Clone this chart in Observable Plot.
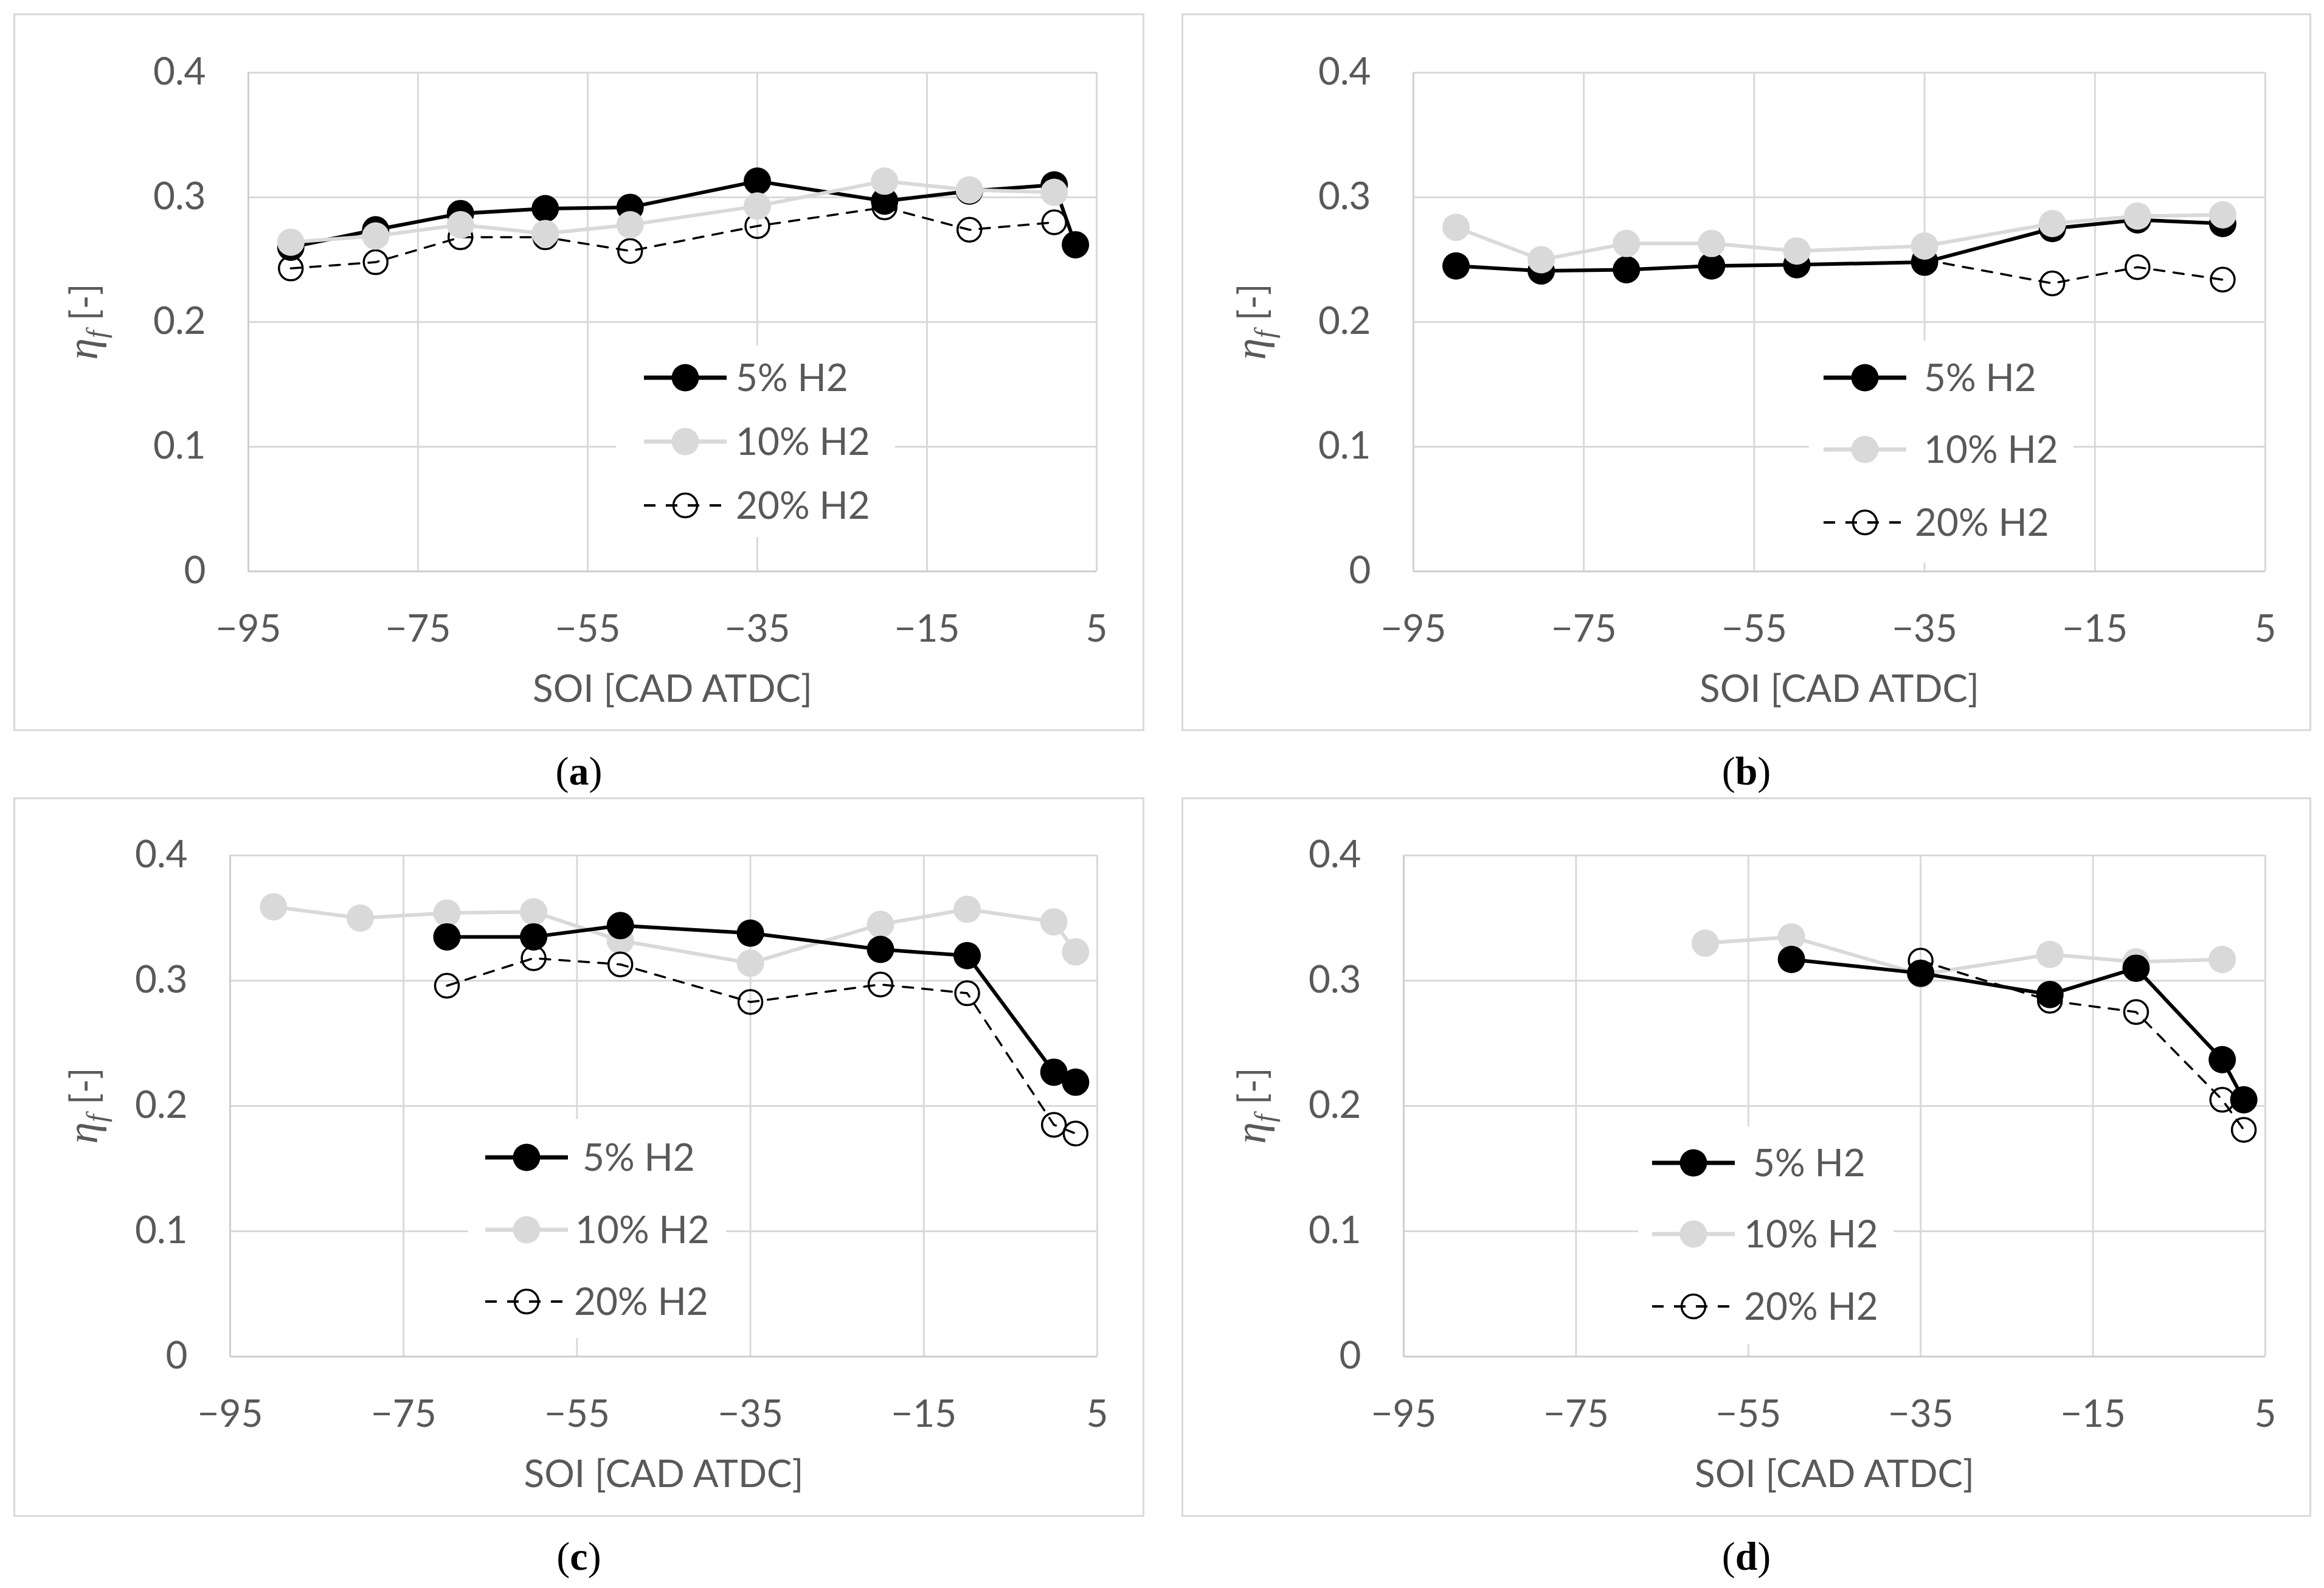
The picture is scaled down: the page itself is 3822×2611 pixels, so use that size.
<!DOCTYPE html>
<html>
<head>
<meta charset="utf-8">
<script src="https://cdn.jsdelivr.net/npm/d3@7"></script>
<script src="https://cdn.jsdelivr.net/npm/@observablehq/plot@0.6"></script>
<style>
  html, body { margin: 0; padding: 0; background: #fff; }
  #page { position: relative; width: 3822px; height: 2611px; background: #fff; overflow: hidden; }
  .panel-svg { position: absolute; }
  .panel-border { position: absolute; box-sizing: border-box; border: 3px solid #d9d9d9; pointer-events: none; }
  .legend { position: absolute; }
  .sublabel { position: absolute; width: 400px; text-align: center; font-family: "Liberation Serif", "DejaVu Serif", serif; font-size: 66px; line-height: 80px; color: #000; }
  .sublabel b { font-weight: bold; }
</style>
</head>
<body>
<div id="page"></div>
<script>
// ---------------- data ----------------
const xTicks = [-95, -75, -55, -35, -15, 5];
const yTicks = [0, 0.1, 0.2, 0.3, 0.4];
const seriesNames = ["5% H2", "10% H2", "20% H2"];
const panelLabels = ["a", "b", "c", "d"];

// (a)
const soiA5  = [-90, -80, -70, -60, -50, -35, -20, -10, 0, 2.5];
const etaA5  = [0.260, 0.274, 0.287, 0.291, 0.292, 0.313, 0.297, 0.305, 0.310, 0.262];
const soiA10 = [-90, -80, -70, -60, -50, -35, -20, -10, 0];
const etaA10 = [0.264, 0.269, 0.278, 0.271, 0.278, 0.293, 0.313, 0.306, 0.304];
const soiA20 = [-90, -80, -70, -60, -50, -35, -20, -10, 0];
const etaA20 = [0.243, 0.248, 0.268, 0.268, 0.257, 0.277, 0.292, 0.274, 0.280];

// (b)
const soiB5  = [-90, -80, -70, -60, -50, -35, -20, -10, 0];
const etaB5  = [0.245, 0.241, 0.242, 0.245, 0.246, 0.248, 0.275, 0.282, 0.279];
const soiB10 = [-90, -80, -70, -60, -50, -35, -20, -10, 0];
const etaB10 = [0.276, 0.250, 0.263, 0.263, 0.257, 0.261, 0.279, 0.285, 0.286];
const soiB20 = [-35, -20, -10, 0];
const etaB20 = [0.250, 0.231, 0.244, 0.234];

// (c)
const soiC5  = [-70, -60, -50, -35, -20, -10, 0, 2.5];
const etaC5  = [0.335, 0.335, 0.344, 0.338, 0.325, 0.320, 0.227, 0.219];
const soiC10 = [-90, -80, -70, -60, -50, -35, -20, -10, 0, 2.5];
const etaC10 = [0.359, 0.350, 0.354, 0.355, 0.332, 0.314, 0.345, 0.357, 0.347, 0.323];
const soiC20 = [-70, -60, -50, -35, -20, -10, 0, 2.5];
const etaC20 = [0.296, 0.318, 0.313, 0.283, 0.297, 0.290, 0.185, 0.178];

// (d)
const soiD5  = [-50, -35, -20, -10, 0, 2.5];
const etaD5  = [0.317, 0.306, 0.289, 0.310, 0.237, 0.205];
const soiD10 = [-60, -50, -35, -20, -10, 0];
const etaD10 = [0.330, 0.335, 0.305, 0.321, 0.315, 0.317];
const soiD20 = [-35, -20, -10, 0, 2.5];
const etaD20 = [0.316, 0.284, 0.275, 0.205, 0.181];

// ---------------- styles ----------------
const TEXT = "#595959";
const GRID = "#d9d9d9";
const FONT = "Lato, 'Open Sans', sans-serif";
const FS = 62;
const styles = {
  "5% H2":  {line: {stroke: "#000", strokeWidth: 6}, dot: {r: 22.5, fill: "#000", stroke: "none"}},
  "10% H2": {line: {stroke: "#d9d9d9", strokeWidth: 6}, dot: {r: 22.5, fill: "#d9d9d9", stroke: "none"}},
  "20% H2": {line: {stroke: "#000", strokeWidth: 3.5, strokeDasharray: "17,15"}, dot: {r: 19.5, fill: "none", stroke: "#000", strokeWidth: 3.5}}
};

const rows = (soi, eta) => soi.map((s, i) => ({soi: s, eta: eta[i]}));

const panels = [
  {label: "a", box: {x: 22, y: 22, w: 1860, h: 1180}, m: [97, 79, 263, 386],
   series: {"5% H2": rows(soiA5, etaA5), "10% H2": rows(soiA10, etaA10), "20% H2": rows(soiA20, etaA20)},
   order: ["20% H2", "5% H2", "10% H2"],
   legend: {x: 1013, y: 568, w: 459, h: 315, sx: 1059, rows: [621, 726, 831], tx: [1210, 1210, 1210]},
   sub: {cx: 952, cy: 1268}},
  {label: "b", box: {x: 1943, y: 22, w: 1858, h: 1180}, m: [97, 76, 263, 381],
   series: {"5% H2": rows(soiB5, etaB5), "10% H2": rows(soiB10, etaB10), "20% H2": rows(soiB20, etaB20)},
   order: ["20% H2", "5% H2", "10% H2"],
   legend: {x: 2975, y: 560, w: 435, h: 365, sx: 2999, rows: [621, 739, 859], tx: [3164, 3164, 3149]},
   sub: {cx: 2872, cy: 1268}},
  {label: "c", box: {x: 22, y: 1311, w: 1860, h: 1183}, m: [95, 78, 264, 356],
   series: {"5% H2": rows(soiC5, etaC5), "10% H2": rows(soiC10, etaC10), "20% H2": rows(soiC20, etaC20)},
   order: ["10% H2", "20% H2", "5% H2"],
   legend: {x: 770, y: 1840, w: 424, h: 360, sx: 798, rows: [1903, 2022, 2140], tx: [958, 946, 944]},
   sub: {cx: 952, cy: 2559}},
  {label: "d", box: {x: 1943, y: 1311, w: 1858, h: 1183}, m: [95, 76, 264, 365],
   series: {"5% H2": rows(soiD5, etaD5), "10% H2": rows(soiD10, etaD10), "20% H2": rows(soiD20, etaD20)},
   order: ["10% H2", "20% H2", "5% H2"],
   legend: {x: 2694, y: 1852, w: 420, h: 358, sx: 2717, rows: [1912, 2029, 2148], tx: [2883, 2868, 2868]},
   sub: {cx: 2872, cy: 2559}}
];

const fmtX = d => d < 0 ? "\u2212" + Math.abs(d) : String(d);
const fmtY = d => d === 0 ? "0" : d.toFixed(1);

const page = document.getElementById("page");

for (const p of panels) {
  const [mt, mr, mb, ml] = p.m;
  const seriesMarks = [];
  for (const name of p.order) {
    const st = styles[name];
    seriesMarks.push(Plot.line(p.series[name], {x: "soi", y: "eta", ...st.line, strokeLinejoin: "round"}));
    seriesMarks.push(Plot.dot(p.series[name], {x: "soi", y: "eta", ...st.dot}));
  }
  const chart = Plot.plot({
    width: p.box.w,
    height: p.box.h,
    marginTop: mt, marginRight: mr, marginBottom: mb, marginLeft: ml,
    x: {domain: [-95, 5]},
    y: {domain: [0, 0.4]},
    style: {fontFamily: FONT, fontSize: FS + "px", color: TEXT, background: "white", maxWidth: "none", overflow: "visible"},
    marks: [
      Plot.gridX(xTicks, {stroke: GRID, strokeOpacity: 1, strokeWidth: 3}),
      Plot.gridY(yTicks, {stroke: GRID, strokeOpacity: 1, strokeWidth: 3}),
      Plot.ruleX([-95], {stroke: "#cfcfcf", strokeWidth: 3}),
      Plot.ruleY([0], {stroke: "#cfcfcf", strokeWidth: 3}),
      Plot.axisX(xTicks, {tickSize: 0, tickPadding: 71, tickFormat: fmtX, label: null, fill: TEXT, fontSize: FS}),
      Plot.axisY(yTicks, {tickSize: 0, tickPadding: 70, tickFormat: fmtY, label: null, fill: TEXT, fontSize: FS}),
      Plot.text(["SOI [CAD ATDC]"], {frameAnchor: "bottom", text: d => d, dy: 214, fill: TEXT, fontSize: FS}),
      ...seriesMarks
    ]
  });
  chart.classList.add("panel-svg");
  chart.style.left = p.box.x + "px";
  chart.style.top = p.box.y + "px";

  // y-axis title: η_f [-]
  const plotCy = mt + (p.box.h - mt - mb) / 2;
  const t = d3.select(chart).append("text")
    .attr("transform", `translate(138,${plotCy}) rotate(-90)`)
    .attr("text-anchor", "middle")
    .attr("fill", TEXT)
    .attr("font-size", FS)
    .attr("font-family", FONT);
  t.append("tspan").attr("font-family", "'Liberation Serif', 'DejaVu Serif', serif").attr("font-style", "italic").attr("font-size", 72).text("η");
  t.append("tspan").attr("font-family", "'Liberation Serif', 'DejaVu Serif', serif").attr("font-style", "italic").attr("font-size", 46).attr("dy", 14).text("f");
  t.append("tspan").attr("dy", -14).text(" [-]");
  page.appendChild(chart);

  // panel border
  const b = document.createElement("div");
  b.className = "panel-border";
  Object.assign(b.style, {left: p.box.x + "px", top: p.box.y + "px", width: p.box.w + "px", height: p.box.h + "px"});
  page.appendChild(b);

  // legend overlay
  const L = p.legend;
  const lg = d3.select(page).append("svg").attr("class", "legend")
    .attr("width", L.w).attr("height", L.h)
    .style("left", L.x + "px").style("top", L.y + "px");
  lg.append("rect").attr("width", L.w).attr("height", L.h).attr("fill", "#fff");
  seriesNames.forEach((name, i) => {
    const st = styles[name];
    const cy = L.rows[i] - L.y;
    const x0 = L.sx - L.x, x1 = x0 + 136, cx = x0 + 68;
    const ln = lg.append("line").attr("x1", x0).attr("x2", x1).attr("y1", cy).attr("y2", cy)
      .attr("stroke", st.line.stroke).attr("stroke-width", name === "20% H2" ? 4 : 7);
    if (st.line.strokeDasharray) ln.attr("stroke-dasharray", "19,17");
    lg.append("circle").attr("cx", cx).attr("cy", cy).attr("r", st.dot.r)
      .attr("fill", st.dot.fill).attr("stroke", st.dot.stroke).attr("stroke-width", st.dot.strokeWidth || 0);
    lg.append("text").attr("x", L.tx[i] - L.x).attr("y", cy).attr("dy", "0.36em")
      .attr("font-family", FONT).attr("font-size", FS).attr("fill", TEXT).text(name);
  });

  // sub label (a) ...
  const s = document.createElement("div");
  s.className = "sublabel";
  s.style.left = (p.sub.cx - 200) + "px";
  s.style.top = (p.sub.cy - 40) + "px";
  s.innerHTML = "(<b>" + p.label + "</b>)";
  page.appendChild(s);
}
</script>
</body>
</html>
